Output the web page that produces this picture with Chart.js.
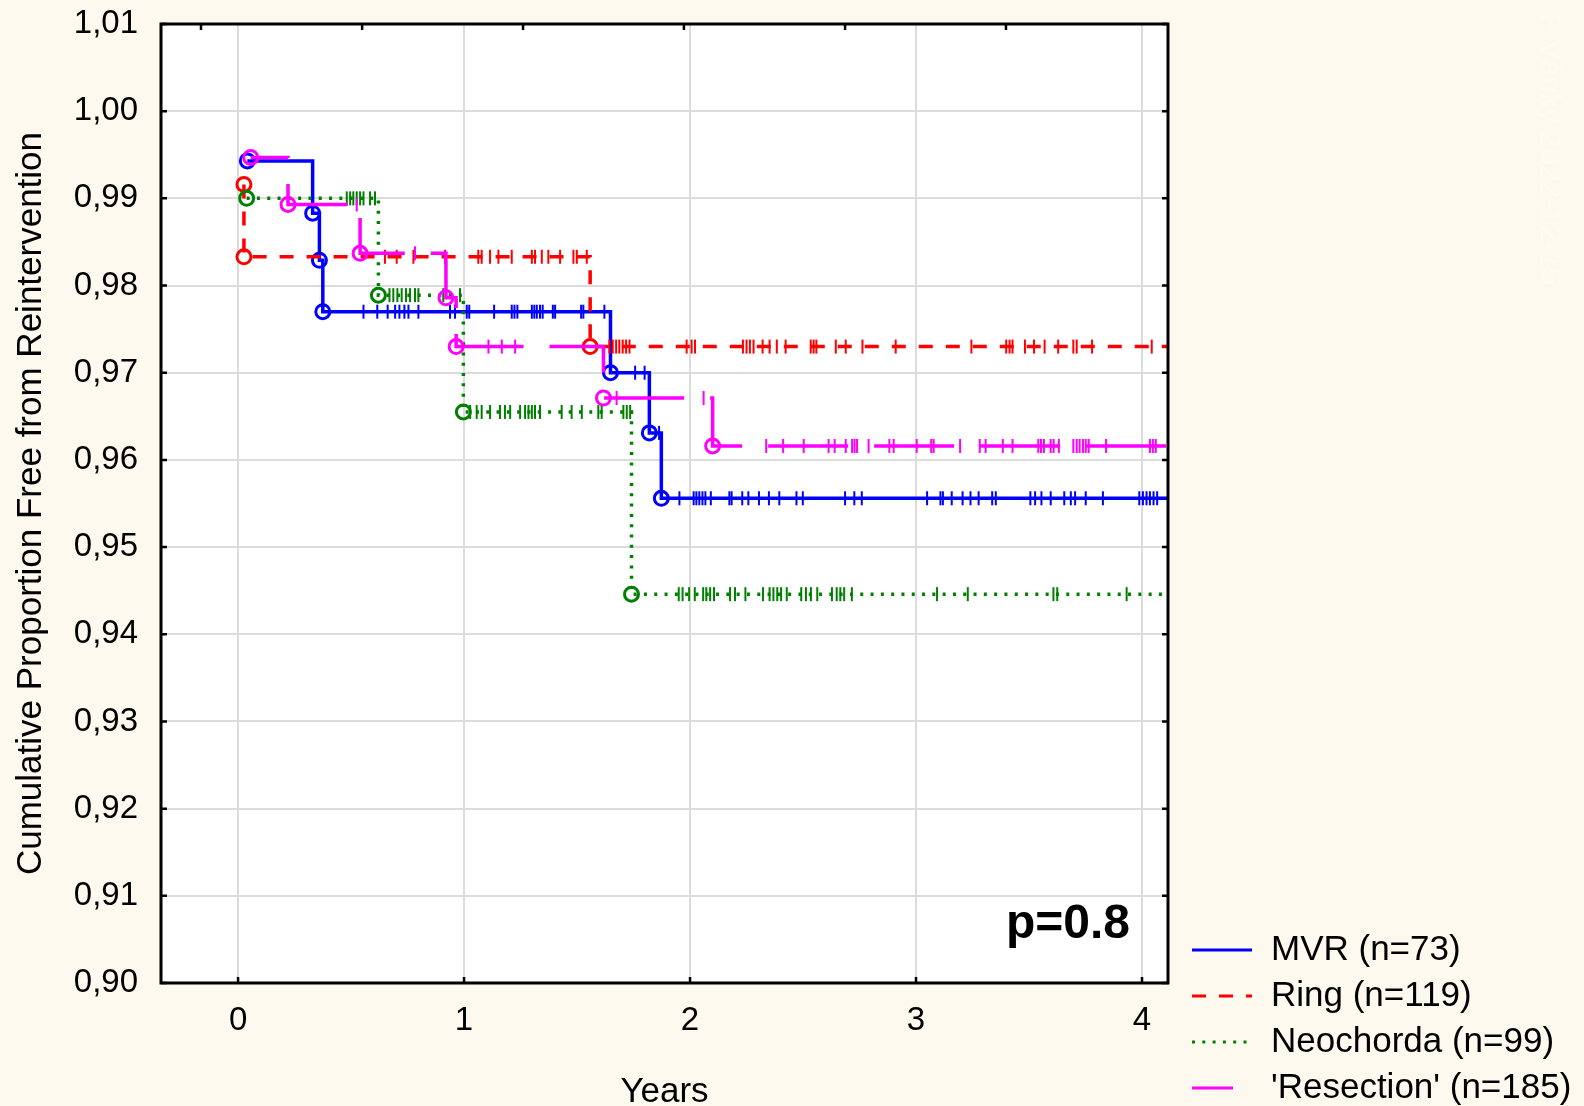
<!DOCTYPE html>
<html>
<head>
<meta charset="utf-8">
<title>Freedom from reintervention</title>
<script src="https://cdn.jsdelivr.net/npm/chart.js@4.4.1/dist/chart.umd.min.js"></script>
<style>
  html, body { margin: 0; padding: 0; background: #fef9ee; overflow: hidden; }
  canvas { display: block; }
</style>
</head>
<body>
<canvas id="kmChart" width="1584" height="1106"></canvas>
<script>
// ---- data (years, cumulative proportion) ----
const seriesLabels = ['MVR (n=73)', 'Ring (n=119)', 'Neochorda (n=99)', "'Resection' (n=185)"];

const mvrTimes = [0.041, 0.330, 0.360, 0.375, 1.648, 1.820, 1.873];
const mvrSurv  = [0.9943, 0.9883, 0.9829, 0.9770, 0.9700, 0.9631, 0.9556];
const mvrCensor = [0.555, 0.616, 0.662, 0.695, 0.714, 0.736, 0.754, 0.798, 0.938, 0.960, 1.012, 1.023,
  1.133, 1.211, 1.223, 1.236, 1.300, 1.311, 1.322, 1.336, 1.348, 1.393, 1.403, 1.518, 1.528, 1.621,
  1.757, 1.799, 1.863, 1.953, 2.016, 2.028, 2.041, 2.055, 2.068, 2.092, 2.174, 2.184, 2.231, 2.258,
  2.305, 2.349, 2.395, 2.471, 2.499, 2.686, 2.727, 2.760, 3.049, 3.108, 3.119, 3.158, 3.206, 3.241,
  3.277, 3.337, 3.353, 3.506, 3.527, 3.555, 3.596, 3.656, 3.685, 3.704, 3.751, 3.827, 3.988, 4.004,
  4.020, 4.035, 4.051, 4.067];

const ringTimes = [0.026, 0.026, 1.558];
const ringSurv  = [0.9916, 0.9833, 0.9730];
const ringCensor = [0.650, 0.702, 0.776, 0.916, 1.063, 1.078, 1.115, 1.152, 1.211, 1.300, 1.314, 1.344,
  1.373, 1.425, 1.484, 1.499, 1.543, 1.643, 1.658, 1.673, 1.687, 1.702, 1.717, 1.732, 1.985, 2.007,
  2.022, 2.234, 2.250, 2.265, 2.281, 2.321, 2.352, 2.384, 2.423, 2.534, 2.547, 2.559, 2.645, 2.689,
  2.763, 2.910, 3.245, 3.399, 3.414, 3.427, 3.482, 3.522, 3.569, 3.629, 3.696, 3.711, 3.779, 4.043];

const neoTimes = [0.038, 0.621, 0.997, 1.741];
const neoSurv  = [0.9900, 0.9789, 0.9655, 0.9446];
const neoCensor = [0.481, 0.496, 0.510, 0.525, 0.540, 0.555, 0.584, 0.606, 0.670, 0.687, 0.705, 0.724,
  0.743, 0.761, 0.783, 0.798, 0.908, 0.982, 1.027, 1.056, 1.078, 1.115, 1.159, 1.181, 1.204, 1.248,
  1.270, 1.285, 1.300, 1.314, 1.336, 1.432, 1.476, 1.521, 1.594, 1.609, 1.705, 1.720, 1.735, 1.950,
  1.967, 1.996, 2.021, 2.058, 2.072, 2.089, 2.106, 2.177, 2.199, 2.245, 2.323, 2.352, 2.369, 2.386,
  2.403, 2.428, 2.492, 2.513, 2.535, 2.563, 2.628, 2.649, 2.665, 2.682, 2.716, 3.093, 3.229, 3.608,
  3.625, 3.932];

const resTimes = [0.056, 0.221, 0.540, 0.920, 0.965, 1.617, 2.100];
const resSurv  = [0.9947, 0.9893, 0.9837, 0.9786, 0.9730, 0.9671, 0.9616];
const resCensor = [0.525, 0.783, 1.108, 1.167, 1.226, 1.675, 2.060, 2.337, 2.412, 2.503, 2.613, 2.640,
  2.689, 2.717, 2.728, 2.739, 2.790, 2.882, 2.901, 3.003, 3.067, 3.078, 3.195, 3.282, 3.308, 3.384,
  3.427, 3.541, 3.553, 3.566, 3.596, 3.609, 3.632, 3.696, 3.711, 3.724, 3.739, 3.751, 3.764, 3.841,
  4.035, 4.048, 4.061];

const xTicks = [0, 1, 2, 3, 4];
const xTopTicks = [-0.164, 0.549, 1.261, 1.973, 2.686, 3.398];
const yTicks = [0.90, 0.91, 0.92, 0.93, 0.94, 0.95, 0.96, 0.97, 0.98, 0.99, 1.00, 1.01];
const pValueText = 'p=0.8';

const xMin = -0.341, xMax = 4.115;

// ---- styles ----
const styles = [
  { color: '#0000ff', dash: [], offset: 0, sample: 60 },
  { color: '#ff0000', dash: [14, 13], offset: 0, sample: 60 },
  { color: '#008000', dash: [3, 7.3], offset: 0, sample: 60 },
  { color: '#ff00ff', dash: [80, 26], offset: 42, sample: 41 }
];
const FONT = '"Liberation Sans", Arial, Helvetica, sans-serif';
Chart.defaults.font.family = FONT;
Chart.defaults.color = '#000';

// step curve points + extension to right edge
function curve(times, surv) {
  const pts = times.map((t, i) => ({ x: t, y: surv[i] }));
  pts.push({ x: xMax, y: surv[surv.length - 1] });
  return pts;
}
// survival level at a censor time
function levelAt(times, surv, t) {
  let s = surv[0];
  for (let i = 0; i < times.length; i++) if (times[i] <= t) s = surv[i];
  return s;
}
function censorPts(times, surv, cens) {
  return cens.map(t => ({ x: t, y: levelAt(times, surv, t) }));
}

const groups = [
  [mvrTimes, mvrSurv, mvrCensor],
  [ringTimes, ringSurv, ringCensor],
  [neoTimes, neoSurv, neoCensor],
  [resTimes, resSurv, resCensor]
];

const datasets = [];
groups.forEach((g, i) => {
  const st = styles[i];
  datasets.push({
    label: seriesLabels[i],
    data: curve(g[0], g[1]),
    stepped: 'before',
    borderColor: st.color,
    borderWidth: 3.5,
    borderDash: st.dash,
    borderDashOffset: st.offset,
    borderCapStyle: 'butt',
    fill: false,
    pointStyle: 'circle',
    pointRadius: c => c.dataIndex === c.dataset.data.length - 1 ? 0 : 7,
    pointBorderWidth: 3,
    pointBorderColor: st.color,
    pointBackgroundColor: 'rgba(0,0,0,0)',
    order: 8 - i * 2
  });
  datasets.push({
    label: seriesLabels[i] + ' censored',
    data: censorPts(g[0], g[1], g[2]),
    showLine: false,
    pointStyle: 'line',
    rotation: 90,
    pointRadius: 7,
    pointBorderWidth: 2,
    pointBorderColor: st.color,
    order: 7 - i * 2
  });
});

const decor = {
  id: 'decor',
  beforeDraw(chart) {
    const { ctx, chartArea: a } = chart;
    ctx.save();
    ctx.fillStyle = '#fef9ee';
    ctx.fillRect(0, 0, chart.width, chart.height);
    ctx.fillStyle = '#ffffff';
    ctx.fillRect(a.left, a.top, a.right - a.left, a.bottom - a.top);
    ctx.restore();
  },
  afterDraw(chart) {
    const { ctx, chartArea: a, scales } = chart;
    ctx.save();
    // frame
    ctx.strokeStyle = '#000';
    ctx.lineWidth = 3;
    ctx.strokeRect(a.left, a.top, a.right - a.left, a.bottom - a.top);
    // inward tick marks
    ctx.lineWidth = 2.5;
    ctx.beginPath();
    yTicks.forEach(v => {
      const y = scales.y.getPixelForValue(v);
      ctx.moveTo(a.left, y); ctx.lineTo(a.left + 6, y);
      ctx.moveTo(a.right, y); ctx.lineTo(a.right - 6, y);
    });
    xTicks.forEach(v => {
      const x = scales.x.getPixelForValue(v);
      ctx.moveTo(x, a.bottom); ctx.lineTo(x, a.bottom - 6);
    });
    xTopTicks.forEach(v => {
      const x = scales.x.getPixelForValue(v);
      ctx.moveTo(x, a.top); ctx.lineTo(x, a.top + 6);
    });
    ctx.stroke();

    // p value
    ctx.fillStyle = '#000';
    ctx.font = 'bold 48px ' + FONT;
    ctx.textAlign = 'right';
    ctx.textBaseline = 'middle';
    ctx.fillText(pValueText, a.right - 38, a.bottom - 58);

    // legend
    ctx.font = '35px ' + FONT;
    ctx.textAlign = 'left';
    seriesLabels.forEach((lab, i) => {
      const st = styles[i];
      const y = 950 + i * 46;
      ctx.strokeStyle = st.color;
      ctx.lineWidth = 3;
      ctx.setLineDash(i !== 3 ? st.dash : []);
      ctx.beginPath();
      ctx.moveTo(1192, y);
      ctx.lineTo(1192 + st.sample, y);
      ctx.stroke();
      ctx.setLineDash([]);
      ctx.fillStyle = '#000';
      ctx.fillText(lab, 1271, y);
    });

    // faint vertical stamp on the right margin
    ctx.translate(1549, 13);
    ctx.rotate(Math.PI / 2);
    ctx.font = '30px ' + FONT;
    ctx.fillStyle = '#fefbf3';
    ctx.textBaseline = 'middle';
    ctx.fillText('F Vánky 2022-12-15', 0, 0);
    ctx.restore();
  }
};

const ctx = document.getElementById('kmChart').getContext('2d');
const kmChart = new Chart(ctx, {
  type: 'line',
  data: { datasets },
  plugins: [decor],
  options: {
    responsive: false,
    animation: false,
    devicePixelRatio: 1,
    layout: { padding: { top: 24, right: 416, left: 0, bottom: 0 } },
    plugins: {
      legend: { display: false },
      tooltip: { enabled: false }
    },
    scales: {
      x: {
        type: 'linear',
        min: xMin,
        max: xMax,
        afterBuildTicks: s => { s.ticks = xTicks.map(v => ({ value: v })); },
        afterFit: s => { s.height = 123; s.paddingLeft = 0; s.paddingRight = 0; },
        grid: { color: '#dcdcdc', lineWidth: 2, drawTicks: false },
        border: { display: false },
        ticks: { padding: 18, font: { size: 33 }, color: '#000', maxRotation: 0, callback: v => String(v) },
        title: { display: true, text: 'Years', color: '#000', font: { size: 35, lineHeight: 0.8 }, padding: { top: 0, bottom: 0 } }
      },
      y: {
        type: 'linear',
        min: 0.90,
        max: 1.01,
        afterBuildTicks: s => { s.ticks = yTicks.map(v => ({ value: v })); },
        afterFit: s => { s.width = 161; s.paddingTop = 0; s.paddingBottom = 0; },
        grid: { color: '#dcdcdc', lineWidth: 2, drawTicks: false },
        border: { display: false },
        ticks: { padding: 23, font: { size: 33 }, color: '#000', callback: v => v.toFixed(2).replace('.', ',') },
        title: { display: true, text: 'Cumulative Proportion Free from Reintervention', color: '#000', font: { size: 35, lineHeight: 1 }, padding: { top: 14, bottom: 0 } }
      }
    }
  }
});
</script>
</body>
</html>
